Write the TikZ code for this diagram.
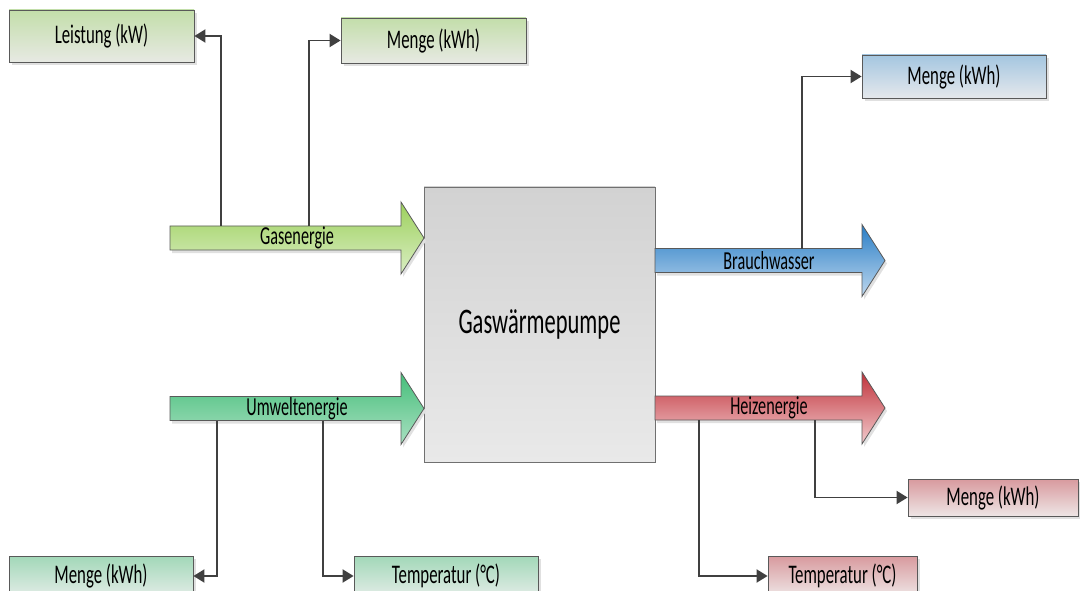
\documentclass[tikz,border=0pt]{standalone}
\usepackage{fontspec}
\setmainfont{Carlito}
\usepackage{graphicx}
\usepackage{tikz}
\usetikzlibrary{arrows.meta,shadows}

\definecolor{linegray}{HTML}{404040}
\definecolor{edgegray}{HTML}{595959}
\definecolor{pumpedge}{HTML}{707070}
\definecolor{pumptop}{HTML}{D2D2D2}
\definecolor{pumpbot}{HTML}{E9E9E9}
\definecolor{gasarrowtop}{HTML}{9CD05C}
\definecolor{gasarrowbot}{HTML}{DAEEC3}
\definecolor{gasboxtop}{HTML}{C3DEAA}
\definecolor{gasboxbot}{HTML}{E7E9E3}
\definecolor{envarrowtop}{HTML}{45BE7A}
\definecolor{envarrowbot}{HTML}{A9E0C1}
\definecolor{envboxtop}{HTML}{A2D8B8}
\definecolor{envboxbot}{HTML}{E1ECE6}
\definecolor{waterarrowtop}{HTML}{2A7EC6}
\definecolor{waterarrowbot}{HTML}{BDD7EE}
\definecolor{waterboxtop}{HTML}{A4C6E0}
\definecolor{waterboxbot}{HTML}{E5E8EC}
\definecolor{heatarrowtop}{HTML}{C0313A}
\definecolor{heatarrowbot}{HTML}{F2CBCD}
\definecolor{heatboxtop}{HTML}{D89A9E}
\definecolor{heatboxbot}{HTML}{EEE5E5}

\newcommand{\tall}[1]{\scalebox{1}[1.6]{#1}}
% flow arrow: left x, tip x, mid y, top colour, bottom colour
\newcommand{\flowarrow}[5]{%
  \path[flowline, top color=#4, bottom color=#5]
    (#1,#3-12) -- (#2-23,#3-12) -- (#2-23,#3-36) -- (#2,#3)
    -- (#2-23,#3+36) -- (#2-23,#3+12) -- (#1,#3+12) -- cycle;
}

\tikzset{
  flowline/.style={draw=edgegray, line width=0.8pt,
    drop shadow={shadow xshift=2pt, shadow yshift=-3pt, fill=black!12, opacity=1}},
  flowlabel/.style={font=\fontsize{16.2}{19}\selectfont, inner sep=0pt},
  valuebox/.style={draw=edgegray, line width=0.8pt, inner sep=0pt,
    minimum width=185pt, minimum height=45pt, font=\fontsize{16.8}{19}\selectfont,
    drop shadow={shadow xshift=3pt, shadow yshift=-3pt, fill=black!12, opacity=1}},
  gasbox/.style={top color=gasboxtop, bottom color=gasboxbot},
  envbox/.style={top color=envboxtop, bottom color=envboxbot},
  waterbox/.style={top color=waterboxtop, bottom color=waterboxbot},
  heatbox/.style={top color=heatboxtop, bottom color=heatboxbot},
  tap/.style={draw=linegray, line width=1.9pt, -{Triangle[length=11pt,width=13pt]}},
}

\begin{document}
\begin{tikzpicture}[x=1pt,y=-1pt]
  \useasboundingbox (0,0) rectangle (1080,591);
  \clip (0,0) rectangle (1080,591);

  % heat pump
  \node[draw=pumpedge, line width=0.8pt, top color=pumptop, bottom color=pumpbot,
        minimum width=231pt, minimum height=275pt, inner sep=0pt,
        font=\fontsize{22.5}{26}\selectfont] (pump) at (539.5,324.5) {\tall{Gaswärmepumpe}};

  % flow arrows
  \flowarrow{170}{424}{238}{gasarrowtop}{gasarrowbot}
  \flowarrow{170}{424}{408.5}{envarrowtop}{envarrowbot}
  \flowarrow{655}{885}{260.5}{waterarrowtop}{waterarrowbot}
  \flowarrow{655}{885}{408}{heatarrowtop}{heatarrowbot}

  \node[flowlabel] (gas) at (297,238) {\tall{Gasenergie}};
  \node[flowlabel] (env) at (297,408.5) {\tall{Umweltenergie}};
  \node[flowlabel] (water) at (769,260.5) {\tall{Brauchwasser}};
  \node[flowlabel] (heat) at (769,408) {\tall{Heizenergie}};

  % tap points on the shafts
  \coordinate (gas tap1) at (221,226);
  \coordinate (gas tap2) at (309,226);
  \coordinate (env tap1) at (217,420.5);
  \coordinate (env tap2) at (323,420.5);
  \coordinate (water tap) at (802,248.5);
  \coordinate (heat tap1) at (699,420);
  \coordinate (heat tap2) at (815,420);

  % measured values
  \node[valuebox, gasbox, minimum height=52pt] (leistung) at (101.5,36) {\tall{Leistung (kW)}};
  \node[valuebox, gasbox] (gas menge) at (433.5,40.5) {\tall{Menge (kWh)}};
  \node[valuebox, waterbox, minimum width=184pt, minimum height=43pt] (water menge) at (954,76.5) {\tall{Menge (kWh)}};
  \node[valuebox, heatbox, minimum width=170pt, minimum height=37pt] (heat menge) at (993,497.5) {\tall{Menge (kWh)}};
  \node[valuebox, heatbox, minimum width=149pt, minimum height=40pt] (heat temp) at (842.5,576) {\tall{Temperatur (°C)}};
  \node[valuebox, envbox, minimum width=184pt, minimum height=40pt] (env menge) at (101,576) {\tall{Menge (kWh)}};
  \node[valuebox, envbox, minimum width=184pt, minimum height=40pt] (env temp) at (446,576) {\tall{Temperatur (°C)}};

  % connectors
  \draw[tap] (gas tap1) |- (leistung.east);
  \draw[tap] (gas tap2) |- (gas menge.west);
  \draw[tap] (water tap) |- (water menge.west);
  \draw[tap] (env tap1) |- (env menge.east);
  \draw[tap] (env tap2) |- (env temp.west);
  \draw[tap] (heat tap1) |- (heat temp.west);
  \draw[tap] (heat tap2) |- (heat menge.west);
\end{tikzpicture}
\end{document}
